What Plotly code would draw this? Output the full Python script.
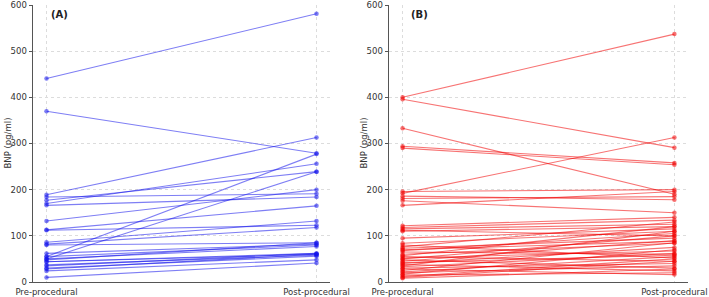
import plotly.graph_objects as go

categories = ["Pre-procedural", "Post-procedural"]
y_ticks = [0, 100, 200, 300, 400, 500, 600]

pre_A = [441, 370, 189, 184, 177, 170, 166, 132, 113, 112, 86, 82, 80, 62, 55, 50, 55, 50, 44, 44, 37, 30, 24, 10, 48, 35, 28]
post_A = [581, 279, 313, 191, 239, 256, 184, 200, 165, 123, 132, 118, 85, 82, 277, 239, 80, 77, 62, 60, 58, 56, 48, 41, 85, 62, 60]

pre_B = [400, 396, 333, 294, 290, 196, 192, 186, 181, 176, 166, 122, 118, 115, 112, 110, 95, 84, 80, 76, 73, 70, 68, 65,
         60, 57, 55, 52, 50, 48, 45, 42, 40, 38, 35, 33, 30, 28, 25, 22, 20, 17, 15, 12, 10, 8]
post_B = [537, 291, 190, 258, 254, 200, 313, 178, 185, 150, 196, 140, 134, 125, 100, 120, 115, 110, 52, 130, 95, 88, 105, 60,
          84, 120, 45, 67, 100, 30, 90, 58, 75, 24, 110, 62, 40, 16, 85, 55, 35, 70, 20, 50, 45, 28]

W, H = 709, 297
mt, mb = 5, 15
ph = H - mt - mb

fig = go.Figure()

def add_panel(pre, post, color, xa, ya):
    for a, b in zip(pre, post):
        fig.add_trace(go.Scatter(
            x=categories, y=[a, b], mode="lines+markers",
            line=dict(color=color, width=1.1),
            marker=dict(color=color, size=4.5),
            xaxis=xa, yaxis=ya, showlegend=False, hoverinfo="skip"))

add_panel(pre_A, post_A, "rgba(20,20,235,0.55)", "x", "y")
add_panel(pre_B, post_B, "rgba(240,0,0,0.55)", "x2", "y2")

font_fam = "DejaVu Sans"
axis_common = dict(
    showline=True, linecolor="#555", linewidth=1,
    ticks="outside", ticklen=3.5, tickcolor="#555",
    showgrid=True, gridcolor="#dcdcdc", griddash="dot", gridwidth=0.8,
    zeroline=False, tickfont=dict(family=font_fam, size=8.5, color="#333"),
    mirror=False, automargin=False, ticklabeloverflow="allow",
)

xcommon = dict(axis_common, type="category", categoryorder="array", categoryarray=categories,
               range=[-0.05, 1.05], ticklen=0, ticklabelstandoff=2)
ycommon = dict(axis_common, range=[0, 600], tickvals=y_ticks, ticktext=[str(v) for v in y_ticks])

fig.update_layout(
    width=W, height=H,
    margin=dict(l=0, r=0, t=mt, b=mb),
    paper_bgcolor="white", plot_bgcolor="white",
    font=dict(family=font_fam, color="#333"),
    xaxis=dict(xcommon, domain=[33 / W, 330 / W], anchor="y"),
    yaxis=dict(ycommon, domain=[0, 1], anchor="x"),
    xaxis2=dict(xcommon, domain=[389 / W, 688 / W], anchor="y2"),
    yaxis2=dict(ycommon, domain=[0, 1], anchor="x2"),
)

def ypaper(px):
    return 1 - (px - mt) / ph

annots = [
    dict(text="<b>(A)</b>", x=60 / W, y=ypaper(15)),
    dict(text="<b>(B)</b>", x=419 / W, y=ypaper(15)),
]
for a in annots:
    fig.add_annotation(xref="paper", yref="paper", x=a["x"], y=a["y"], text=a["text"],
                       showarrow=False, xanchor="center", yanchor="middle",
                       font=dict(family=font_fam, size=10, color="#222"))

for xpx in (7, 363):
    fig.add_annotation(xref="paper", yref="paper", x=xpx / W, y=0.5, text="BNP (pg/ml)",
                       textangle=-90, showarrow=False, xanchor="center", yanchor="middle",
                       font=dict(family=font_fam, size=8.5, color="#333"))

fig.write_html("out.html")
